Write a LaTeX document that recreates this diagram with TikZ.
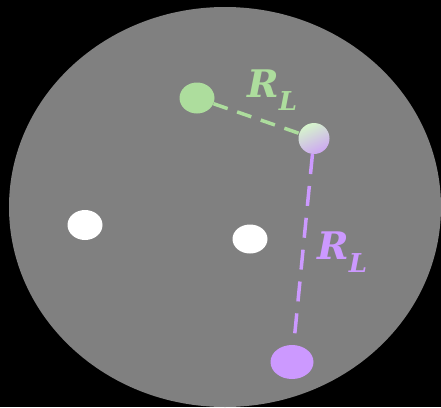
\documentclass[tikz,border=0pt]{standalone}
\usepackage{fontspec}
\usepackage{tikz}
\usetikzlibrary{positioning,shapes.geometric}
\newfontfamily\rlfont{DejaVu Serif}
\definecolor{bgblack}{HTML}{000000}
\definecolor{disk}{HTML}{808080}
\definecolor{green}{HTML}{ADDD9D}
\definecolor{lightgreen}{HTML}{D6F5CC}
\definecolor{palegreen}{HTML}{E6F6E2}
\definecolor{purple}{HTML}{CC99FF}
\definecolor{lightpurple}{HTML}{CDA6F3}

\begin{document}
\begin{tikzpicture}[
  x=1pt,
  y=-1pt,
  dot/.style={ellipse, inner sep=0pt, draw=none},
  greenlink/.style={line width=3.5pt, draw=green, dash pattern=on 15pt off 10pt},
  purplelink/.style={line width=3.5pt, draw=purple, dash pattern=on 20pt off 12pt},
  rlabel/.style={font=\rlfont\bfseries\itshape\fontsize{38}{38}\selectfont, inner sep=0pt}
]
  \useasboundingbox (0,0) rectangle (441,407);
  \fill[bgblack] (0,0) rectangle (441,407);
  \fill[disk] (225,207) ellipse [x radius=216, y radius=200];

  \node[dot, fill=green, minimum width=35pt, minimum height=31pt] (g) at (197,98) {};
  \node[dot, top color=lightgreen, middle color=palegreen, bottom color=lightpurple,
    shading angle=25, minimum width=31pt, minimum height=31pt] (m) at (314,138.5) {};
  \node[dot, fill=purple, minimum width=43pt, minimum height=34pt] (p) at (292,362) {};
  \node[dot, fill=white, minimum width=35pt, minimum height=30pt] (w1) at (85,225) {};
  \node[dot, fill=white, minimum width=35pt, minimum height=29pt] (w2) at (250,239) {};

  \draw[greenlink] (g) -- (m);
  \draw[purplelink] (m) -- (p);

  \node[rlabel, text=green, anchor=base west] (rg) at (247,97)
    {R\raisebox{-13pt}{\fontsize{26}{26}\selectfont L}};
  \node[rlabel, text=purple, anchor=base west] (rp) at (317,259)
    {R\raisebox{-13pt}{\fontsize{26}{26}\selectfont L}};
\end{tikzpicture}
\end{document}
